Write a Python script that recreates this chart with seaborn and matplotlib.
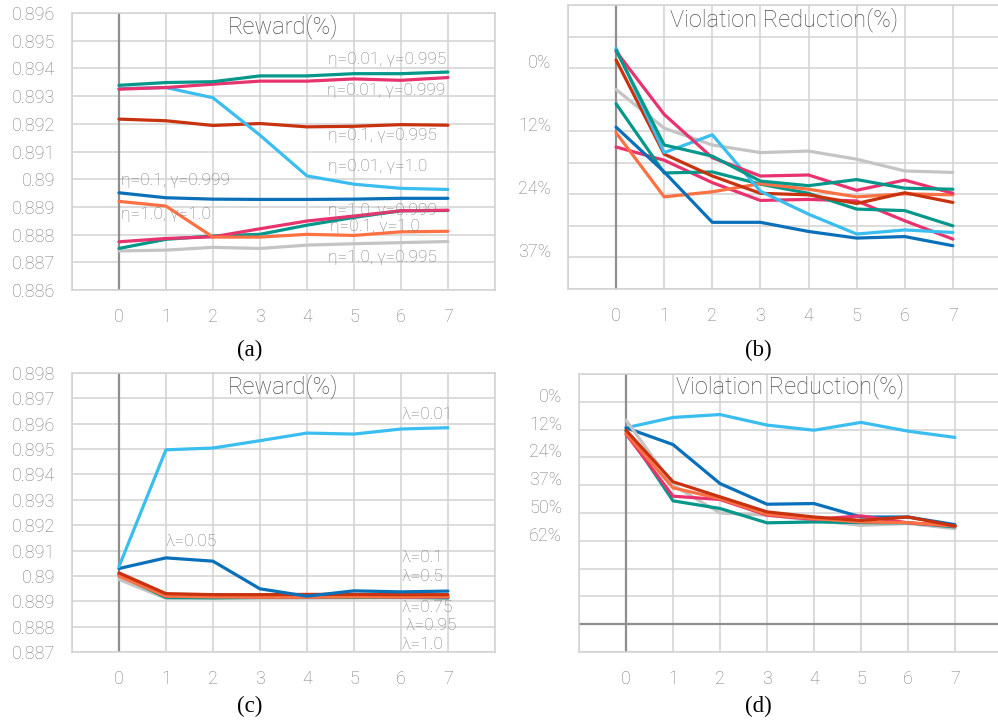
import numpy as np
import pandas as pd
import matplotlib.pyplot as plt
import seaborn as sns

steps = [0, 1, 2, 3, 4, 5, 6, 7]

# (a) reward for eta / gamma settings
rew_e001_g0995 = [0.89339, 0.89349, 0.89352, 0.89373, 0.89373, 0.89381, 0.89381, 0.89387]
rew_e001_g0999 = [0.89325, 0.89331, 0.89343, 0.89354, 0.89354, 0.89362, 0.89357, 0.89367]
rew_e001_g1 = [0.89327, 0.89331, 0.89294, 0.89159, 0.89012, 0.88982, 0.88967, 0.88963]
rew_e01_g0995 = [0.89217, 0.89211, 0.89194, 0.89201, 0.89189, 0.89191, 0.89197, 0.89195]
rew_e01_g0999 = [0.88951, 0.88933, 0.88928, 0.88927, 0.88927, 0.88928, 0.88931, 0.88931]
rew_e1_g1 = [0.88920, 0.88903, 0.88791, 0.88791, 0.88801, 0.88797, 0.88810, 0.88812]
rew_e1_g0999 = [0.88774, 0.88786, 0.88792, 0.88821, 0.88849, 0.88867, 0.88886, 0.88888]
rew_e01_g1 = [0.88750, 0.88783, 0.88795, 0.88801, 0.88834, 0.88862, 0.88886, 0.88887]
rew_e1_g0995 = [0.88741, 0.88744, 0.88754, 0.88750, 0.88762, 0.88767, 0.88771, 0.88775]

# (b) violation reduction (%) for the same settings
vio_e001_g0995 = [-3.5, 15.1, 17.3, 22.2, 23.1, 21.9, 23.6, 23.8]
vio_e001_g0999 = [-3.3, 9.1, 17.6, 21.2, 21.0, 24.0, 22.0, 24.6]
vio_e001_g1 = [-3.9, 16.6, 13.1, 24.2, 28.7, 32.6, 31.8, 32.3]
vio_e01_g0995 = [-1.6, 16.9, 21.2, 24.6, 24.9, 26.6, 24.5, 26.4]
vio_e01_g0999 = [11.6, 20.4, 30.3, 30.3, 32.1, 33.4, 33.1, 34.9]
vio_e1_g1 = [12.7, 25.3, 24.3, 22.7, 23.8, 25.3, 24.7, 24.9]
vio_e1_g0999 = [15.5, 18.1, 22.5, 26.0, 25.8, 26.1, 30.0, 33.6]
vio_e01_g1 = [7.0, 20.6, 20.4, 22.8, 24.6, 27.7, 28.0, 31.0]
vio_e1_g0995 = [4.2, 11.8, 15.1, 16.6, 16.3, 17.9, 20.2, 20.5]

eta_names = ["η=0.01, γ=0.995", "η=0.01, γ=0.999", "η=0.01, γ=1.0", "η=0.1, γ=0.995",
             "η=0.1, γ=0.999", "η=1.0, γ=1.0", "η=1.0, γ=0.999", "η=0.1, γ=1.0", "η=1.0, γ=0.995"]

# (c) reward for lambda settings
rew_l001 = [0.89036, 0.89497, 0.89504, 0.89533, 0.89563, 0.89559, 0.89579, 0.89584]
rew_l005 = [0.89029, 0.89071, 0.89058, 0.88949, 0.88920, 0.88941, 0.88937, 0.88940]
rew_l01 = [0.89012, 0.88930, 0.88926, 0.88926, 0.88927, 0.88927, 0.88926, 0.88926]
rew_l05 = [0.88999, 0.88920, 0.88917, 0.88916, 0.88916, 0.88917, 0.88917, 0.88918]
rew_l075 = [0.89007, 0.88920, 0.88920, 0.88917, 0.88917, 0.88920, 0.88917, 0.88917]
rew_l095 = [0.89003, 0.88915, 0.88913, 0.88915, 0.88915, 0.88915, 0.88916, 0.88913]
rew_l1 = [0.88986, 0.88911, 0.88913, 0.88912, 0.88912, 0.88913, 0.88913, 0.88913]

# (d) violation reduction (%) for lambda settings
vio_l001 = [11.6, 7.0, 5.7, 10.4, 12.7, 9.2, 13.1, 15.9]
vio_l005 = [11.6, 19.1, 36.5, 45.7, 45.4, 51.4, 51.4, 54.8]
vio_l01 = [12.7, 35.7, 42.4, 49.1, 51.4, 52.9, 51.4, 55.4]
vio_l05 = [14.1, 38.4, 43.2, 50.2, 52.1, 53.6, 53.9, 55.4]
vio_l075 = [14.4, 42.1, 43.6, 50.6, 52.4, 50.9, 54.0, 55.4]
vio_l095 = [13.0, 44.2, 47.6, 54.0, 53.6, 53.9, 54.0, 55.8]
vio_l1 = [8.2, 37.2, 49.6, 50.6, 52.9, 55.1, 54.3, 56.6]

lam_names = ["λ=0.01", "λ=0.05", "λ=0.1", "λ=0.5", "λ=0.75", "λ=0.95", "λ=1.0"]

# axis tick labels
rew_a_ticks = [0.896, 0.895, 0.894, 0.893, 0.892, 0.891, 0.89, 0.889, 0.888, 0.887, 0.886]
rew_c_ticks = [0.898, 0.897, 0.896, 0.895, 0.894, 0.893, 0.892, 0.891, 0.89, 0.889, 0.888, 0.887]
vio_labels_b = ["", "", "0%", "", "12%", "", "24%", "", "37%", ""]
vio_labels_d = ["", "0%", "12%", "24%", "37%", "50%", "62%", "", "", "", ""]

TEAL = '#05978a'
PINK = '#e8336e'
LBLUE = '#3abdef'
DRED = '#c8320e'
DBLUE = '#0a70b9'
ORANGE = '#fe7143'
GRAY = '#c4c4c4'
GRID = '#d2d2d2'
AXIS = '#8e8e8e'
TXT = '#7c7c7c'

eta_colors = [TEAL, PINK, LBLUE, DRED, DBLUE, ORANGE, PINK, TEAL, GRAY]
lam_colors = [LBLUE, DBLUE, DRED, ORANGE, PINK, TEAL, GRAY]

sns.set_style('white')
plt.rcParams['font.family'] = ['Roboto', 'DejaVu Sans']
plt.rcParams['font.weight'] = 'light'


def long_df(names, series):
    rows = []
    for name, vals in zip(names, series):
        for s, v in zip(steps, vals):
            rows.append({'step': s, 'value': v, 'setting': name})
    return pd.DataFrame(rows)


def draw_lines(ax, names, series, colors, order):
    df = long_df(names, series)
    pal = dict(zip(names, colors))
    hue_order = [names[i] for i in order]
    sns.lineplot(data=df, x='step', y='value', hue='setting', hue_order=hue_order,
                 palette=pal, linewidth=2.3, legend=False, ax=ax, zorder=3)


def style_axes(ax, yticks, ylabels, ylim, title, ty, baseline=False):
    ax.set_xlim(-1, 8)
    ax.set_ylim(*ylim)
    ax.set_xticks(range(-1, 9))
    ax.set_xticklabels([''] + [str(s) for s in steps] + [''])
    ax.set_yticks(yticks)
    ax.set_yticklabels(ylabels)
    ax.grid(True, color=GRID, linewidth=1.1, zorder=0)
    for sp in ax.spines.values():
        sp.set_color(GRID)
        sp.set_linewidth(1.1)
    ax.tick_params(axis='both', length=6, width=1.1, color=GRID, labelcolor=TXT, labelsize=13)
    ax.tick_params(axis='x', pad=7)
    ax.tick_params(axis='y', pad=6)
    if baseline:
        for lab in ax.get_yticklabels():
            lab.set_verticalalignment('baseline')
    ax.axvline(0, color=AXIS, linewidth=1.6, zorder=2)
    ax.set_xlabel('')
    ax.set_ylabel('')
    ax.text(0.5, ty, title, transform=ax.transAxes, ha='center', va='center',
            fontsize=17, color='#505050')


fig = plt.figure(figsize=(9.98, 7.27), dpi=100)
ax_a = fig.add_axes([0.0721, 0.6011, 0.4238, 0.3810])
ax_b = fig.add_axes([0.5691, 0.6025, 0.4339, 0.3906])
ax_c = fig.add_axes([0.0721, 0.1032, 0.4238, 0.3838])
ax_d = fig.add_axes([0.5802, 0.1032, 0.4238, 0.3824])

eta_rew = [rew_e001_g0995, rew_e001_g0999, rew_e001_g1, rew_e01_g0995, rew_e01_g0999,
           rew_e1_g1, rew_e1_g0999, rew_e01_g1, rew_e1_g0995]
eta_vio = [vio_e001_g0995, vio_e001_g0999, vio_e001_g1, vio_e01_g0995, vio_e01_g0999,
           vio_e1_g1, vio_e1_g0999, vio_e01_g1, vio_e1_g0995]
lam_rew = [rew_l001, rew_l005, rew_l01, rew_l05, rew_l075, rew_l095, rew_l1]
lam_vio = [vio_l001, vio_l005, vio_l01, vio_l05, vio_l075, vio_l095, vio_l1]

# (a)
draw_lines(ax_a, eta_names, eta_rew, eta_colors, [8, 7, 6, 5, 4, 3, 2, 1, 0])
style_axes(ax_a, rew_a_ticks, [f'{t:g}' for t in rew_a_ticks], (0.886, 0.896), 'Reward(%)', 0.95)
label_pos_a = [(4.45, 0.89432), (4.42, 0.89321), (4.44, 0.89159), (4.44, 0.89045), (0.04, 0.88997),
               (0.04, 0.88873), (4.44, 0.88888), (4.5, 0.88828), (4.44, 0.88718)]
label_txt_a = ["η=0.01, γ=0.995", "η=0.01, γ=0.999", "η=0.1, γ=0.995", "η=0.01, γ=1.0", "η=0.1, γ=0.999",
               "η=1.0, γ=1.0", "η=1.0, γ=0.999", "η=0.1, γ=1.0", "η=1.0, γ=0.995"]
for (x, y), t in zip(label_pos_a, label_txt_a):
    ax_a.text(x, y, t, fontsize=12.5, color=TXT, ha='left', va='center', zorder=4)

# (b)
vio_step_b = 6.2
draw_lines(ax_b, eta_names, eta_vio, eta_colors, [8, 6, 7, 5, 4, 3, 2, 1, 0])
style_axes(ax_b, [vio_step_b * k for k in range(-2, 8)], vio_labels_b,
           (vio_step_b * 7, vio_step_b * -2), 'Violation Reduction(%)', 0.947, baseline=True)

# (c)
draw_lines(ax_c, lam_names, lam_rew, lam_colors, [6, 5, 4, 3, 2, 1, 0])
style_axes(ax_c, rew_c_ticks, [f'{t:g}' for t in rew_c_ticks], (0.887, 0.898), 'Reward(%)', 0.95)
label_pos_c = [(6.02, 0.89635), (1.0, 0.89135), (6.02, 0.89071), (6.02, 0.88996),
               (6.02, 0.88875), (6.1, 0.88803), (6.02, 0.88729)]
for (x, y), t in zip(label_pos_c, lam_names):
    ax_c.text(x, y, t, fontsize=12.5, color=TXT, ha='left', va='center', zorder=4)

# (d)
vio_step_d = 12.4
draw_lines(ax_d, lam_names, lam_vio, lam_colors, [0, 1, 6, 5, 4, 3, 2])
style_axes(ax_d, [vio_step_d * k for k in range(-1, 10)], vio_labels_d,
           (vio_step_d * 9, vio_step_d * -1), 'Violation Reduction(%)', 0.953, baseline=True)
ax_d.axhline(vio_step_d * 8, color=AXIS, linewidth=1.6, zorder=2)

for x, y, t in [(0.2505, 0.5186, '(a)'), (0.7595, 0.5186, '(b)'),
                (0.2505, 0.0289, '(c)'), (0.7595, 0.0289, '(d)')]:
    fig.text(x, y, t, ha='center', va='center', fontsize=16.5, fontweight='normal',
             family=['Liberation Serif', 'DejaVu Serif'], color='black')

plt.savefig('out.png', dpi=100)
